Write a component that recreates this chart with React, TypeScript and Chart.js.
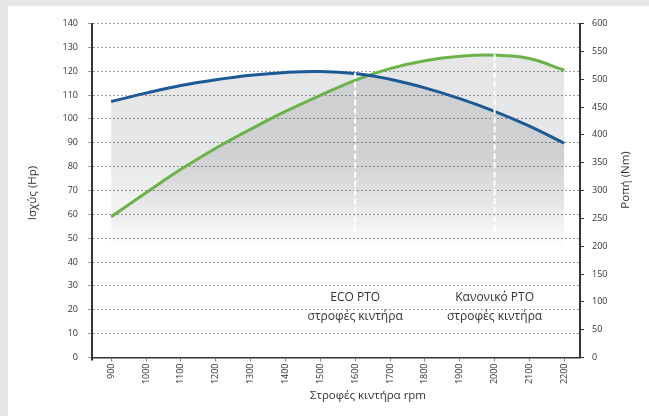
import { useEffect, useRef } from "react";
import { Chart, registerables } from "chart.js";

Chart.register(...registerables);

// ---- data ----
const rpm = [900, 1000, 1100, 1200, 1300, 1400, 1500, 1600, 1700, 1800, 1900, 2000, 2100, 2200];
const powerHp = [107.3, 110.8, 114.0, 116.4, 118.3, 119.5, 119.9, 119.0, 116.6, 113.0, 108.5, 103.2, 97.0, 89.8];
const torqueNm = [253, 296, 338, 376, 410, 442, 471, 498, 519, 533, 541, 543, 537, 516];
const xTickValues = [900, 1000, 1100, 1200, 1300, 1400, 1500, 1600, 1700, 1800, 1900, 2000, 2100, 2200];
const ptoRpm = [1600, 2000];
const ptoLabelTop = ["ECO PTO", "Κανονικό PTO"];
const ptoLabelBottom = ["στροφές κιντήρα", "στροφές κιντήρα"];
const ptoLineBottomHp = 52;
const xTitle = "Στροφές κιντήρα rpm";
const leftTitle = "Ισχύς (Hp)";
const rightTitle = "Ροπή (Nm)";

const FONT = "'Open Sans', 'Noto Sans', 'DejaVu Sans', sans-serif";
const BLUE = "#1c5a96";
const GREEN = "#6cb24a";
const TEXT = "#333333";

const fillGradient = (ctx: any) => {
  const chart = ctx.chart;
  const area = chart.chartArea;
  if (!area) return "rgba(0,0,0,0)";
  const g = chart.ctx.createLinearGradient(0, area.top, 0, area.top + 225);
  g.addColorStop(0, "rgba(25,30,40,0.11)");
  g.addColorStop(0.6, "rgba(25,30,40,0.11)");
  g.addColorStop(1, "rgba(25,30,40,0)");
  return g;
};

const overlayPlugin = {
  id: "overlay",
  afterDatasetsDraw(chart: any) {
    const { ctx, scales } = chart;
    const x = scales.x;
    const yL = scales.yPower;
    const yR = scales.yTorque;
    ctx.save();
    ctx.strokeStyle = "#ffffff";
    ctx.lineWidth = 2;
    ctx.setLineDash([6, 3]);
    ptoRpm.forEach((r) => {
      const i = rpm.indexOf(r);
      const px = x.getPixelForValue(r);
      const top = Math.min(yR.getPixelForValue(torqueNm[i]), yL.getPixelForValue(powerHp[i])) - 1;
      const bottom = yL.getPixelForValue(ptoLineBottomHp);
      ctx.beginPath();
      ctx.moveTo(px, top);
      ctx.lineTo(px, bottom);
      ctx.stroke();
    });
    ctx.restore();
  },
  afterDraw(chart: any) {
    const { ctx, scales } = chart;
    const x = scales.x;
    ctx.save();
    ctx.fillStyle = TEXT;
    ctx.textAlign = "center";
    ctx.textBaseline = "middle";
    ctx.font = `12px ${FONT}`;
    ptoRpm.forEach((r, i) => {
      const px = x.getPixelForValue(r);
      ctx.fillText(ptoLabelTop[i], px, 298);
      ctx.fillText(ptoLabelBottom[i], px, 317);
    });
    ctx.font = `11.5px ${FONT}`;
    ctx.fillText(xTitle, 368, 396);
    ctx.save();
    ctx.translate(33, 193);
    ctx.rotate(-Math.PI / 2);
    ctx.fillText(leftTitle, 0, 0);
    ctx.restore();
    ctx.save();
    ctx.translate(626, 180);
    ctx.rotate(-Math.PI / 2);
    ctx.fillText(rightTitle, 0, 0);
    ctx.restore();
    // left axis small extension below the x axis
    const yL = scales.yPower;
    ctx.strokeStyle = "#333";
    ctx.lineWidth = 2;
    ctx.beginPath();
    ctx.moveTo(yL.right, chart.chartArea.bottom);
    ctx.lineTo(yL.right, chart.chartArea.bottom + 3);
    ctx.stroke();
    ctx.restore();
  },
};

export default function App() {
  const ref = useRef<HTMLCanvasElement | null>(null);

  useEffect(() => {
    if (!ref.current) return;
    const chart = new Chart(ref.current, {
      type: "line",
      data: {
        datasets: [
          {
            label: "Ισχύς",
            data: rpm.map((r, i) => ({ x: r, y: powerHp[i] })),
            yAxisID: "yPower",
            borderColor: BLUE,
            borderWidth: 3,
            pointRadius: 0,
            tension: 0.4,
            fill: "origin",
            backgroundColor: fillGradient,
          },
          {
            label: "Ροπή",
            data: rpm.map((r, i) => ({ x: r, y: torqueNm[i] })),
            yAxisID: "yTorque",
            borderColor: GREEN,
            borderWidth: 3,
            pointRadius: 0,
            tension: 0.4,
            fill: "origin",
            backgroundColor: fillGradient,
          },
        ],
      },
      options: {
        animation: false,
        responsive: false,
        layout: { padding: { left: 0, right: 0, top: 23.5, bottom: 0 } },
        plugins: {
          legend: { display: false },
          tooltip: { enabled: false },
          filler: { drawTime: "beforeDatasetsDraw" },
        },
        scales: {
          x: {
            type: "linear",
            min: 845,
            max: 2245,
            afterFit: (s: any) => {
              s.height = 58.5;
            },
            afterBuildTicks: (s: any) => {
              s.ticks = xTickValues.map((v) => ({ value: v }));
            },
            grid: { drawOnChartArea: false, drawTicks: true, tickLength: 4, color: "#8a8a8a" },
            border: { display: true, color: "#333", width: 1.5 },
            ticks: {
              minRotation: 90,
              maxRotation: 90,
              padding: 2,
              autoSkip: false,
              color: "#333",
              font: { family: FONT, size: 9 },
              callback: (v: any) => String(v),
            },
          },
          yPower: {
            type: "linear",
            position: "left",
            min: 0,
            max: 140,
            afterFit: (s: any) => {
              s.width = 92;
            },
            ticks: { stepSize: 10, padding: 10, color: "#333", font: { family: FONT, size: 9 } },
            grid: { color: "#9a9a9a", lineWidth: 1, tickLength: 4, drawTicks: true },
            border: { display: true, color: "#333", width: 2, dash: [2, 2] },
          },
          yTorque: {
            type: "linear",
            position: "right",
            min: 0,
            max: 600,
            afterFit: (s: any) => {
              s.width = 69;
            },
            ticks: { stepSize: 50, padding: 8, color: "#333", font: { family: FONT, size: 9 } },
            grid: { drawOnChartArea: false, drawTicks: true, tickLength: 4, color: "#333", lineWidth: 1 },
            border: { display: true, color: "#333", width: 2 },
          },
        },
      },
      plugins: [overlayPlugin],
    } as any);
    return () => chart.destroy();
  }, []);

  return (
    <div style={{ position: "fixed", left: 0, top: 0, width: 649, height: 416, background: "#e6e7e9" }}>
      <div style={{ position: "absolute", left: 8, top: 6, right: 0, bottom: 0, background: "#ffffff" }} />
      <canvas
        ref={ref}
        width={649}
        height={416}
        style={{ position: "absolute", left: 0, top: 0, width: 649, height: 416, display: "block" }}
      />
    </div>
  );
}
